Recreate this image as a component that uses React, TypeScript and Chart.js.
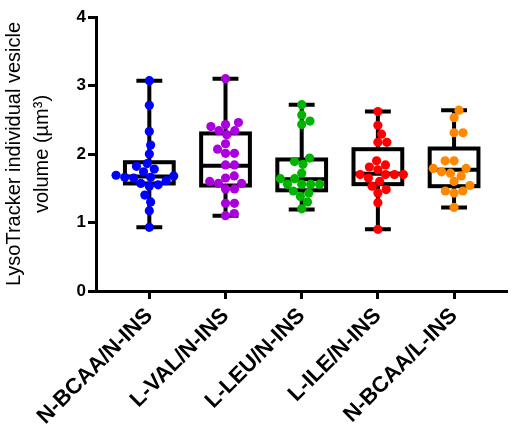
import React, { useEffect, useRef } from "react";
import { Chart, registerables } from "chart.js";

Chart.register(...registerables);

const CATEGORIES = ["N-BCAA/N-INS", "L-VAL/N-INS", "L-LEU/N-INS", "L-ILE/N-INS", "N-BCAA/L-INS"];
const COLORS = ["#0000FF", "#AA00DD", "#00B400", "#FF0000", "#FF8800"];

const NBCAA_NINS = [3.07, 2.71, 2.33, 2.13, 2.0, 1.86, 1.82, 1.78, 1.74, 1.69, 1.68, 1.66, 1.66, 1.65, 1.61, 1.57, 1.55, 1.53, 1.4, 1.3, 1.17, 0.93];
const LVAL_NINS = [3.1, 2.46, 2.43, 2.4, 2.34, 2.34, 2.28, 2.15, 2.07, 2.01, 2.01, 1.84, 1.84, 1.68, 1.65, 1.6, 1.57, 1.57, 1.49, 1.49, 1.28, 1.28, 1.13, 1.1];
const LLEU_NINS = [2.72, 2.57, 2.48, 2.43, 1.94, 1.89, 1.85, 1.72, 1.64, 1.64, 1.56, 1.56, 1.56, 1.56, 1.46, 1.43, 1.38, 1.3, 1.2];
const LILE_NINS = [2.62, 2.42, 2.29, 2.17, 2.17, 1.9, 1.84, 1.81, 1.77, 1.7, 1.7, 1.7, 1.7, 1.65, 1.6, 1.53, 1.48, 1.43, 1.29, 0.9];
const NBCAA_LINS = [2.64, 2.53, 2.31, 2.31, 1.9, 1.9, 1.79, 1.79, 1.74, 1.72, 1.68, 1.6, 1.54, 1.46, 1.46, 1.43, 1.22];
const SERIES = [NBCAA_NINS, LVAL_NINS, LLEU_NINS, LILE_NINS, NBCAA_LINS];

// box stats: [min, q1, median, q3, max]
const BOX_MIN = [0.93, 1.1, 1.19, 0.9, 1.22];
const BOX_Q1 = [1.57, 1.54, 1.47, 1.56, 1.53];
const BOX_MEDIAN = [1.67, 1.83, 1.63, 1.71, 1.77];
const BOX_Q3 = [1.88, 2.3, 1.92, 2.07, 2.08];
const BOX_MAX = [3.07, 3.1, 2.72, 2.62, 2.64];

const Y_TICKS = [0, 1, 2, 3, 4];
const FONT = "'Liberation Sans', Arial, Helvetica, sans-serif";

// beeswarm: offsets (in category units) so dots do not overlap
function swarm(values: number[], diam: number, xPx: number, yPx: number): number[] {
  const order = values.map((v, i) => i).sort((a, b) => values[a] - values[b]);
  const placed: { x: number; y: number }[] = [];
  const out = new Array(values.length).fill(0);
  for (const idx of order) {
    const y = values[idx] * yPx;
    const near = placed.filter((p) => Math.abs(p.y - y) < diam);
    const cands = [0];
    for (const p of near) {
      const dx = Math.sqrt(diam * diam - (p.y - y) * (p.y - y));
      cands.push(p.x + dx + 0.01, p.x - dx - 0.01);
    }
    const ok = cands.filter((c) => near.every((p) => Math.hypot(p.x - c, p.y - y) >= diam - 0.001));
    ok.sort((a, b) => Math.abs(a) - Math.abs(b) || b - a);
    const x = ok[0];
    placed.push({ x, y });
    out[idx] = x / xPx;
  }
  return out;
}

const boxPlugin = {
  id: "boxes",
  beforeDatasetsDraw(chart: any) {
    const { ctx, scales } = chart;
    const xs = scales.x;
    const ys = scales.y;
    const unit = xs.getPixelForValue(1) - xs.getPixelForValue(0);
    const half = unit * 0.32;
    const cap = unit * 0.17;
    ctx.save();
    ctx.strokeStyle = "#000";
    ctx.lineWidth = 4;
    ctx.lineCap = "butt";
    CATEGORIES.forEach((_, i) => {
      const cx = xs.getPixelForValue(i);
      const yMin = ys.getPixelForValue(BOX_MIN[i]);
      const yQ1 = ys.getPixelForValue(BOX_Q1[i]);
      const yMed = ys.getPixelForValue(BOX_MEDIAN[i]);
      const yQ3 = ys.getPixelForValue(BOX_Q3[i]);
      const yMax = ys.getPixelForValue(BOX_MAX[i]);
      ctx.beginPath();
      ctx.moveTo(cx, yMax);
      ctx.lineTo(cx, yQ3);
      ctx.moveTo(cx, yQ1);
      ctx.lineTo(cx, yMin);
      ctx.moveTo(cx - cap, yMax);
      ctx.lineTo(cx + cap, yMax);
      ctx.moveTo(cx - cap, yMin);
      ctx.lineTo(cx + cap, yMin);
      ctx.moveTo(cx - half, yMed);
      ctx.lineTo(cx + half, yMed);
      ctx.stroke();
      ctx.strokeRect(cx - half, yQ3, half * 2, yQ1 - yQ3);
    });
    ctx.restore();
  },
};

export default function App() {
  const ref = useRef<HTMLCanvasElement | null>(null);
  useEffect(() => {
    document.body.style.margin = "0";
    const canvas = ref.current;
    if (!canvas) return;
    const datasets = SERIES.map((vals, i) => {
      const offs = swarm(vals, 9, 76.7, 68.5);
      return {
        label: CATEGORIES[i],
        data: vals.map((v, j) => ({ x: i + offs[j], y: v })),
        backgroundColor: COLORS[i],
        borderWidth: 0,
        pointRadius: 4.6,
      };
    });
    const chart = new Chart(canvas, {
      type: "scatter",
      data: { datasets },
      plugins: [boxPlugin],
      options: {
        animation: false,
        responsive: false,
        maintainAspectRatio: false,
        layout: { padding: { top: 17, right: 2, left: 0, bottom: 0 } },
        plugins: { legend: { display: false }, tooltip: { enabled: false } },
        scales: {
          x: {
            type: "linear",
            min: -0.7,
            max: 4.7,
            afterBuildTicks: (s: any) => {
              s.ticks = CATEGORIES.map((_, i) => ({ value: i }));
            },
            afterFit: (s: any) => {
              s.height = 141;
            },
            ticks: {
              callback: (v: any) => CATEGORIES[v as number] ?? "",
              minRotation: 45,
              maxRotation: 45,
              autoSkip: false,
              color: "#000",
              padding: 4,
              font: { family: FONT, size: 22, weight: "bold" },
            },
            grid: { drawOnChartArea: false, drawTicks: true, tickLength: 8, tickWidth: 3, color: "#000" },
            border: { display: true, color: "#000", width: 3 },
          },
          y: {
            min: 0,
            max: 4,
            afterBuildTicks: (s: any) => {
              s.ticks = Y_TICKS.map((v) => ({ value: v }));
            },
            afterFit: (s: any) => {
              s.width = 96;
            },
            ticks: {
              color: "#000",
              padding: 2,
              font: { family: FONT, size: 17, weight: "bold" },
            },
            grid: { drawOnChartArea: false, drawTicks: true, tickLength: 8, tickWidth: 3, color: "#000" },
            border: { display: true, color: "#000", width: 3 },
            title: {
              display: true,
              text: ["LysoTracker individual vesicle", "volume (µm³)"],
              color: "#000",
              padding: { top: 0, bottom: 0 },
              font: { family: FONT, size: 20, weight: "normal", lineHeight: 1.4 },
            },
          },
        },
      },
    });
    return () => chart.destroy();
  }, []);
  return (
    <div style={{ width: 512, height: 432 }}>
      <canvas ref={ref} width={512} height={432} style={{ display: "block" }} />
    </div>
  );
}
